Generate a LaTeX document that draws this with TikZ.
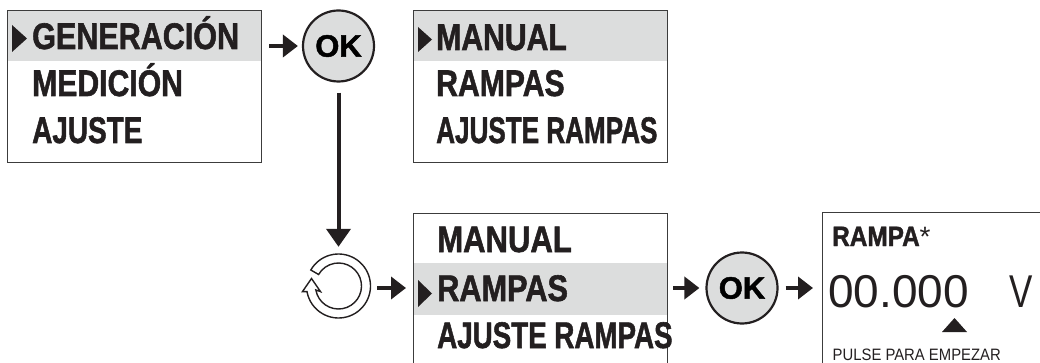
\documentclass[tikz,border=0pt]{standalone}
\usepackage{fontspec}
\usepackage{graphicx}
\setmainfont{Liberation Sans}
\newfontfamily\heavyfont{Liberation Sans Bold}[FakeBold=1.6]
\usetikzlibrary{arrows.meta,backgrounds,calc}
\definecolor{ink}{HTML}{231F20}
\definecolor{band}{HTML}{DCDDDD}
\definecolor{frame}{HTML}{3C3C3C}
\newcommand{\hsq}[2]{\scalebox{#1}[1]{#2}}
\tikzset{
  screen/.style={draw=frame, line width=1.4pt, anchor=north west, inner sep=0pt},
  menu/.style={anchor=base west, inner sep=0pt, text=ink, font=\fontsize{37}{40}\heavyfont},
  okbtn/.style={circle, minimum size=71pt, inner sep=0pt, fill=band, draw=ink, line width=2.2pt,
    font=\fontsize{31}{33}\heavyfont, text=black},
  arr/.style={draw=ink, line width=4.5pt, -{Triangle[length=15pt,width=22pt]}},
  darr/.style={draw=ink, line width=4pt, -{Triangle[length=18pt,width=24pt]}},
  sel/.style={fill=ink}
}
\begin{document}
\begin{tikzpicture}[x=1pt,y=-1pt]
\useasboundingbox (0,0) rectangle (1040,363);
\clip (0,0) rectangle (1040,363);

% screens
\node[screen, minimum width=254pt, minimum height=152pt] (box1) at (7,10) {};
\node[screen, minimum width=254pt, minimum height=152pt] (box2) at (413,10) {};
\node[screen, minimum width=254pt, minimum height=170pt] (box3) at (413,213) {};
\node[screen, minimum width=240pt, minimum height=170pt] (box4) at (822,212) {};

% highlight bands
\begin{pgfonlayer}{background}
\fill[band] (box1.north west) rectangle ($(box1.north east)+(0,51)$);
\fill[band] (box2.north west) rectangle ($(box2.north east)+(0,51)$);
\fill[band] ($(box3.north west)+(0,50)$) rectangle ($(box3.north east)+(0,102)$);
\end{pgfonlayer}

% box 1 texts
\fill[sel] (12,25) -- (12,52) -- (27,38.5) -- cycle;
\node[menu] (t11) at (32,49) {\hsq{0.825}{GENERACIÓN}};
\node[menu] (t12) at (32,96) {\hsq{0.815}{MEDICIÓN}};
\node[menu] (t13) at (32,143) {\hsq{0.755}{AJUSTE}};

% box 2 texts
\fill[sel] (418,27) -- (418,52) -- (432,39.5) -- cycle;
\node[menu] (t21) at (436,50) {\hsq{0.815}{MANUAL}};
\node[menu] (t22) at (436,96) {\hsq{0.815}{RAMPAS}};
\node[menu] (t23) at (436,143) {\hsq{0.705}{AJUSTE RAMPAS}};

% box 3 texts
\fill[sel] (418,280) -- (418,307) -- (432,293.5) -- cycle;
\node[menu] (t31) at (437,252) {\hsq{0.84}{MANUAL}};
\node[menu] (t32) at (437,301) {\hsq{0.83}{RAMPAS}};
\node[menu] (t33) at (437,348) {\hsq{0.75}{AJUSTE RAMPAS}};

% box 4 texts
\node[anchor=base west, inner sep=0pt, text=ink, font=\fontsize{28}{30}\selectfont] (t41) at (832,246) {\hsq{0.87}{\heavyfont RAMPA}*};
\node[anchor=base west, inner sep=0pt, text=ink, font=\fontsize{46}{48}\selectfont] (t42) at (828,307) {00.000};
\node[anchor=base west, inner sep=0pt, text=ink, font=\fontsize{46}{48}\selectfont] (t43) at (1009,307) {\hsq{0.76}{V}};
\fill[ink] (942,332) -- (967,332) -- (954.5,318) -- cycle;
\node[anchor=base west, inner sep=0pt, text=ink, font=\fontsize{16.5}{18}\selectfont] (t44) at (832.5,360) {\hsq{0.9}{PULSE PARA EMPEZAR}};

% buttons
\node[okbtn] (ok1) at (338.5,46) {OK};
\node[okbtn] (ok2) at (742,288) {OK};

% refresh icon
\node[circle, minimum size=64pt, inner sep=0pt] (ring) at (338.5,286) {};
\filldraw[fill=white, draw=ink, line width=1.4pt]
  ($(ring.center)+(-150:32)$) arc[start angle=-150, end angle=170, radius=32]
  -- ++(-4.5,0)
  -- ($(ring.center)+(-27,-7.5)$)
  -- ($(ring.center)+(-18,5.6)$)
  -- ($(ring.center)+(170:23)$)
  arc[start angle=170, end angle=-150, radius=23] -- cycle;

% connectors
\draw[arr, shorten <=7pt, shorten >=4pt] (box1.east |- ok1.center) -- (ok1.west);
\draw[darr, shorten <=10pt, shorten >=7pt] (ok1.south) -- (ok1.south |- ring.north);
\draw[arr, shorten <=6.5pt, shorten >=7pt] (ring.east |- ok2.center) -- (box3.west |- ok2.center);
\draw[arr, shorten <=5pt, shorten >=6pt] (box3.east |- ok2.center) -- (ok2.west);
\draw[arr, shorten <=7pt, shorten >=9pt] (ok2.east) -- (box4.west |- ok2.center);
\end{tikzpicture}
\end{document}
